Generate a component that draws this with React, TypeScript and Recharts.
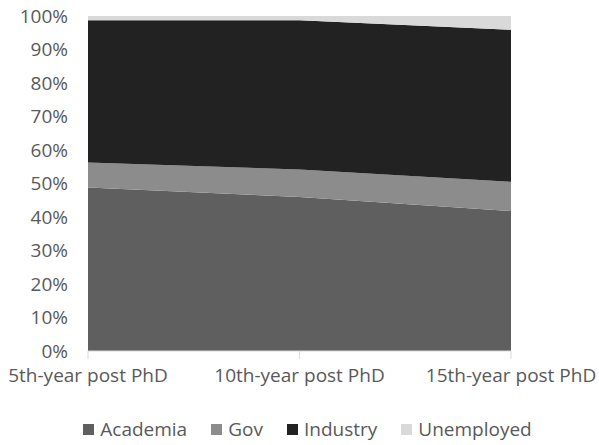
import { AreaChart, Area, XAxis, YAxis, Legend } from 'recharts';

const stages = ['5th-year post PhD', '10th-year post PhD', '15th-year post PhD'];
const academia = [48.8, 46.0, 41.8];
const gov = [7.5, 8.2, 8.7];
const industry = [42.4, 44.5, 45.4];
const unemployed = [1.3, 1.3, 4.1];
const percentTicks = [0, 10, 20, 30, 40, 50, 60, 70, 80, 90, 100];

const series = [
  { key: 'Academia', color: '#5f5f5f' },
  { key: 'Gov', color: '#8c8c8c' },
  { key: 'Industry', color: '#222222' },
  { key: 'Unemployed', color: '#d9d9d9' },
];

const data = stages.map((stage, i) => ({
  stage,
  Academia: academia[i],
  Gov: gov[i],
  Industry: industry[i],
  Unemployed: unemployed[i],
}));

const FONT = '"Open Sans", "Liberation Sans", sans-serif';
const TEXT = '#595959';

function LegendRow() {
  return (
    <div
      style={{
        display: 'flex',
        justifyContent: 'center',
        alignItems: 'center',
        paddingTop: 11,
        paddingLeft: 40,
        fontFamily: FONT,
        fontSize: 19,
        color: TEXT,
      }}
    >
      {series.map((s) => (
        <div key={s.key} style={{ display: 'flex', alignItems: 'center', marginRight: 24 }}>
          <span style={{ width: 11, height: 11, background: s.color, marginRight: 6, display: 'inline-block' }} />
          <span>{s.key}</span>
        </div>
      ))}
    </div>
  );
}

export default function App() {
  return (
    <div style={{ position: 'absolute', left: 0, top: 0, width: 599, height: 445, background: '#fff', fontFamily: FONT }}>
      <AreaChart width={599} height={445} data={data} margin={{ top: 16, right: 88, left: 0, bottom: 0 }}>
        <XAxis
          dataKey="stage"
          axisLine={{ stroke: '#d9d9d9' }}
          tickLine={{ stroke: '#d9d9d9' }}
          tickSize={8}
          tickMargin={10}
          height={54}
          interval={0}
          tick={{ fill: TEXT, fontSize: 19, fontFamily: FONT }}
        />
        <YAxis
          width={88}
          domain={[0, 100]}
          ticks={percentTicks}
          tickFormatter={(v) => `${v}%`}
          axisLine={false}
          tickLine={false}
          tickSize={0}
          tickMargin={20}
          tick={{ fill: TEXT, fontSize: 19, fontFamily: FONT }}
        />
        {series.map((s) => (
          <Area
            key={s.key}
            type="linear"
            dataKey={s.key}
            stackId="share"
            stroke="none"
            fill={s.color}
            fillOpacity={1}
            isAnimationActive={false}
          />
        ))}
        <Legend
          verticalAlign="bottom"
          height={40}
          wrapperStyle={{ left: 0, width: 599 }}
          content={() => <LegendRow />}
        />
      </AreaChart>
    </div>
  );
}
